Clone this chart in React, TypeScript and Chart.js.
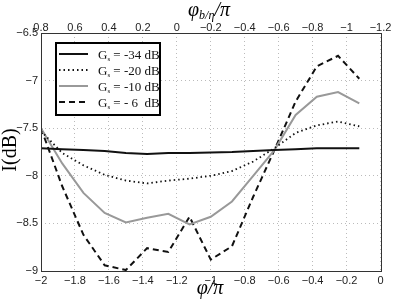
import React, { useEffect, useRef } from "react";
import { Chart, registerables } from "chart.js";

Chart.register(...registerables);

// phi/pi sample positions
const phiValues = [-2, -1.875, -1.75, -1.625, -1.5, -1.375, -1.25, -1.125, -1, -0.875, -0.75, -0.625, -0.5, -0.375, -0.25, -0.125];

// I(dB) for each Gs
const g34 = [-7.71, -7.72, -7.73, -7.74, -7.76, -7.77, -7.76, -7.76, -7.755, -7.75, -7.74, -7.73, -7.72, -7.71, -7.71, -7.71];
const g20 = [-7.53, -7.76, -7.89, -7.99, -8.05, -8.08, -8.05, -8.03, -8.0, -7.95, -7.85, -7.71, -7.55, -7.47, -7.43, -7.48];
const g10 = [-7.5, -7.87, -8.18, -8.39, -8.49, -8.44, -8.4, -8.51, -8.43, -8.27, -8.0, -7.73, -7.36, -7.17, -7.12, -7.24];
const g6 = [-7.5, -8.11, -8.62, -8.94, -8.99, -8.76, -8.8, -8.43, -8.88, -8.74, -8.22, -7.73, -7.22, -6.85, -6.74, -6.98];

const legendValues = ["-34 dB", "-20 dB", "-10 dB", "- 6  dB"];

const minus = (s: string) => s.replace("-", "\u2212");
const fmt = (v: number) => {
  const r = Math.round(v * 10) / 10;
  if (Math.abs(r) < 1e-9) return "0";
  return minus(String(r));
};

const styles = [
  { color: "#111111", dash: [] as number[], width: 2 },
  { color: "#111111", dash: [1.5, 3], width: 1.8 },
  { color: "#999999", dash: [] as number[], width: 2 },
  { color: "#111111", dash: [6, 4], width: 2 },
];

const overlay = {
  id: "overlay",
  afterDraw(chart: any) {
    const { ctx, chartArea: a } = chart;
    ctx.save();
    // plot box
    ctx.setLineDash([]);
    ctx.strokeStyle = "#333";
    ctx.lineWidth = 1;
    ctx.strokeRect(Math.round(a.left) + 0.5, Math.round(a.top) + 0.5, Math.round(a.right - a.left), Math.round(a.bottom - a.top));

    // legend
    const lx = a.left + 15;
    const ly = a.top + 10;
    const lw = 104;
    const lh = 72;
    ctx.fillStyle = "#fff";
    ctx.fillRect(lx, ly, lw, lh);
    ctx.strokeStyle = "#000";
    ctx.lineWidth = 2;
    ctx.strokeRect(lx, ly, lw, lh);
    for (let i = 0; i < 4; i++) {
      const y = ly + 11 + i * 16;
      const st = styles[i];
      ctx.beginPath();
      ctx.setLineDash(st.dash);
      ctx.strokeStyle = st.color;
      ctx.lineWidth = st.width;
      ctx.moveTo(lx + 3, y);
      ctx.lineTo(lx + 32, y);
      ctx.stroke();
      ctx.setLineDash([]);
      ctx.fillStyle = "#111";
      ctx.textBaseline = "alphabetic";
      ctx.textAlign = "left";
      let tx = lx + 42;
      ctx.font = "13px 'Liberation Serif'";
      ctx.fillText("G", tx, y + 5);
      tx += ctx.measureText("G").width;
      ctx.font = "7px 'Liberation Serif'";
      ctx.fillText("s", tx, y + 7);
      tx += ctx.measureText("s").width;
      ctx.font = "13px 'Liberation Serif'";
      ctx.fillText(" = " + legendValues[i], tx, y + 5);
    }

    // axis titles
    ctx.fillStyle = "#000";
    ctx.textAlign = "left";
    ctx.textBaseline = "alphabetic";
    // bottom title
    ctx.font = "italic 20px 'Liberation Serif'";
    const bt = "\u03C6/\u03C0";
    const bw = ctx.measureText(bt).width;
    ctx.fillText(bt, 210 - bw / 2, 294);
    // top title
    ctx.font = "italic 20px 'Liberation Serif'";
    const p1 = "\u03C6";
    const w1 = ctx.measureText(p1).width;
    ctx.font = "italic 12px 'Liberation Serif'";
    const p2 = "b/\u03B7";
    const w2 = ctx.measureText(p2).width;
    ctx.font = "italic 20px 'Liberation Serif'";
    const p3 = "/\u03C0";
    const w3 = ctx.measureText(p3).width;
    let tx = 209 - (w1 + w2 + w3) / 2;
    ctx.fillText(p1, tx, 16);
    tx += w1;
    ctx.font = "italic 12px 'Liberation Serif'";
    ctx.fillText(p2, tx, 19);
    tx += w2;
    ctx.font = "italic 20px 'Liberation Serif'";
    ctx.fillText(p3, tx, 16);
    // y title
    ctx.save();
    ctx.translate(11, 150);
    ctx.rotate(-Math.PI / 2);
    ctx.textAlign = "center";
    ctx.textBaseline = "middle";
    ctx.font = "20px 'Liberation Serif'";
    ctx.fillText("I(dB)", 0, 0);
    ctx.restore();

    ctx.restore();
  },
};

export default function App() {
  const ref = useRef<HTMLCanvasElement | null>(null);
  useEffect(() => {
    if (!ref.current) return;
    const series = [g34, g20, g10, g6];
    const chart = new Chart(ref.current, {
      type: "line",
      data: {
        datasets: series.map((vals, i) => ({
          label: "Gs = " + legendValues[i],
          data: phiValues.map((x, j) => ({ x, y: vals[j] })),
          borderColor: styles[i].color,
          borderDash: styles[i].dash,
          borderWidth: styles[i].width,
          pointRadius: 0,
          tension: 0,
          fill: false,
        })),
      },
      options: {
        animation: false,
        responsive: false,
        maintainAspectRatio: false,
        layout: { padding: { left: 0, right: 18.5, top: 0, bottom: 0 } },
        plugins: { legend: { display: false }, tooltip: { enabled: false } },
        scales: {
          x: {
            type: "linear",
            position: "bottom",
            min: -2,
            max: 0,
            afterFit: (s: any) => {
              s.height = 32;
            },
            ticks: {
              stepSize: 0.2,
              autoSkip: false,
              maxRotation: 0,
              padding: 3,
              color: "#222",
              font: { family: "'Liberation Sans'", size: 11 },
              callback: (v: any) => fmt(Number(v)),
            },
            grid: { color: "#bbbbbb", lineWidth: 1, drawTicks: false },
            border: { display: false, dash: [1, 3] },
          },
          x2: {
            type: "linear",
            position: "top",
            min: -2,
            max: 0,
            afterFit: (s: any) => {
              s.height = 33;
            },
            ticks: {
              stepSize: 0.2,
              autoSkip: false,
              maxRotation: 0,
              padding: -2,
              color: "#222",
              font: { family: "'Liberation Sans'", size: 11 },
              callback: (v: any) => fmt(-Number(v) - 1.2),
            },
            grid: { display: false, drawTicks: false },
            border: { display: false },
          },
          y: {
            type: "linear",
            min: -9,
            max: -6.5,
            afterFit: (s: any) => {
              s.width = 41;
            },
            ticks: {
              stepSize: 0.5,
              autoSkip: false,
              padding: 3,
              color: "#222",
              font: { family: "'Liberation Sans'", size: 11 },
              callback: (v: any) => fmt(Number(v)),
            },
            grid: { color: "#bbbbbb", lineWidth: 1, drawTicks: false },
            border: { display: false, dash: [1, 3] },
          },
        },
      },
      plugins: [overlay],
    });
    return () => chart.destroy();
  }, []);
  return (
    <div style={{ position: "absolute", left: 0, top: 0, width: 399, height: 303, background: "#fff" }}>
      <canvas ref={ref} width={399} height={303} style={{ width: 399, height: 303 }} />
    </div>
  );
}
